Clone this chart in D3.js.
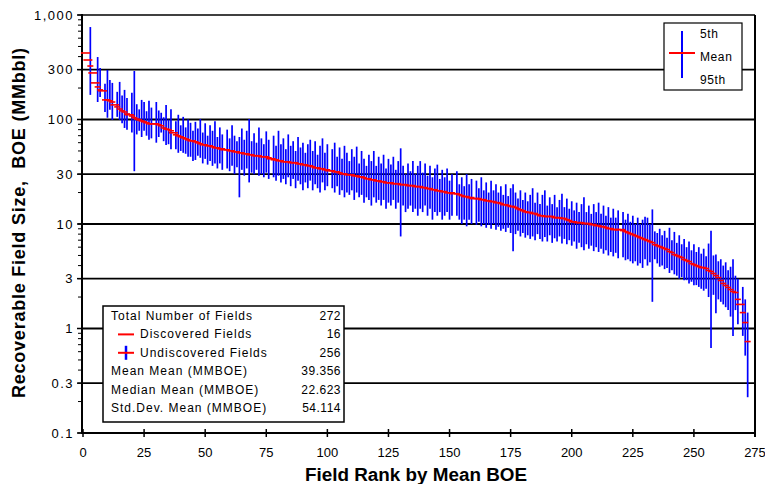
<!DOCTYPE html>
<html><head><meta charset="utf-8">
<script src="https://cdn.jsdelivr.net/npm/d3@7"></script>
<style>
body{margin:0;background:#fff;}
svg text{font-family:"Liberation Sans",Arial,sans-serif;fill:#000;}
</style></head><body>
<svg id="c" width="765" height="484"></svg>
<script>
// Field ranks 1..272 — mean, 95th and 5th percentile (MMBOE); null = discovered field (no range bar)
const meanValues = [433,371,325,279,224,205,192,188,154,154,
151,147,138,132,126,121,118,113,111,108,
104,101,99,97,95,93,91,91,91,91,
89,87,83,81,80,78,74.6,71.4,69.8,68.3,
66.8,65.3,63.9,62.5,62.5,61.2,59.9,58.6,57.3,57.3,
56,56,54.8,53.6,53.6,52.4,52.4,51.3,51.3,50.2,
50.2,49.1,49.1,48,48,47,47,46,46,45,
45,45,44,44,44,43,42.1,41.2,41.2,40.3,
40.3,39.4,39.4,39.4,38.6,38.6,38.6,37.7,37.7,36.9,
36.9,36.1,36.1,35.3,34.5,34.5,33.8,33.8,33,33,
32.3,32.3,31.6,31.6,30.9,30.2,30.2,29.6,29.6,29.6,
28.9,28.9,28.3,28.3,27.7,27.1,27.1,26.5,26.5,25.9,
25.9,25.4,25.4,24.8,24.8,24.8,24.3,24.3,24.3,23.8,
23.8,23.8,23.3,23.3,23.3,22.8,22.8,22.8,22.3,22.3,
21.8,21.8,21.3,21.3,20.8,20.8,20.4,20.4,19.9,19.9,
19.9,19.5,19.5,19.1,18.7,18.3,18.3,17.9,17.9,17.5,
17.5,17.5,17.1,17.1,16.7,16.7,16.4,16.4,16,16,
15.7,15.3,15.3,15,14.7,14.7,14.4,14,13.7,13.4,
13.1,12.9,12.9,12.6,12.6,12.3,12,12,11.8,11.8,
11.8,11.8,11.5,11.5,11.5,11.3,11.3,11,10.8,10.5,
10.5,10.3,10.3,10.3,10.1,10.1,10.1,9.87,9.87,9.65,
9.65,9.44,9.44,9.24,9.04,9.04,8.84,8.84,8.84,8.84,
8.65,8.46,8.27,8.09,7.92,7.75,7.58,7.41,7.25,7.09,
6.94,6.79,6.64,6.35,6.21,6.08,5.95,5.82,5.69,5.45,
5.33,5.1,4.99,4.88,4.77,4.57,4.47,4.37,4.18,4.09,
4,3.91,3.83,3.83,3.75,3.59,3.51,3.36,3.21,3.07,
2.88,2.7,2.58,2.47,2.36,2.26,2.21,1.9,1.7,1.42,
1.14,0.75];

const p95Values = [null,null,767,null,null,396,311,null,220,298,
239,224,null,184,229,170,192,161,null,180,
291,140,125,154,147,120,151,130,null,147,
122,116,105,138,100,125,null,96,111,88,
106,84,100,93,78,95,82,101,75,92,
70,88,78,96,68,84,72,null,80,66,
88,70,62,68,82,64,78,101,62,74,
60,84,66,58,77,64,null,70,56,78,
58,66,52,72,56,62,50,68,54,60,
48,58,64,50,62,46,56,66,48,58,
null,52,60,44,54,42,56,48,40,52,
44,55,38,50,42,36,46,40,50,36,
44,38,46,34,42,37,44,33,40,53,
36,30,38,32,40,30,36,40,31,38,
29,36,28,34,37,27,33,28,34,26,
30,null,32,24,28,23,30,24,27,null,
26,22,28,21,25,20,26,21,24,20,
23,19,24,18.5,22,24,20,17.5,21,17,
20,16.5,19,22,16,20,15.5,19,21,15,
18,15.5,19,14.5,17,19.5,14.5,17.5,14,16.5,
13.5,16,13,15.5,18,13,15,12.5,15.5,13,
16,12.5,15,12,14.5,11.5,14,11.5,13.5,null,
13,11,12.5,10.5,12,10,11.5,10,11,11.7,
11.5,10,13.8,8.5,8.2,9,7.8,8.6,7.4,9.2,
7,8.4,6.6,7.8,6.4,7.2,6,6.8,5.6,6.4,
5.4,6,5.2,5.8,4.9,6.5,8.6,5,5.1,4.4,
4.6,4,4.3,3.6,3.9,4.6,3.2,3,null,2.5,
1.9,1.42];

const p5Values = [null,null,172,null,null,147,164,null,118,104,
124,99,null,106,99,92,83,80,null,75,
32,72,78,68,78,70,64,66,null,60,
68,75,62,57,58,52,null,52,48,50,
48,47,44,44,40,41,45,43,38,42,
37,40,36,38,34,38,33,null,34,32,
36,30,35,18,33,29,34,25,31,30,
33,29,30,28,31,27,null,28,26,29,
25,27,24,28,23,27,22,26,24,21,
25,22,26,21,24,22,20,25,21,23,
null,22,20,23,19,21,18,20,19,21,
17,20,18,19,16,18,17,15,18,16,
17,15,17,14,16,15,17,14,16,7.6,
15,13,14,15,13,14,12,14,13,15,
12,14,11,13,12,13,11,12,13,11,
12,null,12,11,10,11,9.5,11,10,null,
9.8,10.5,9.5,10,9.2,9.8,9,10,8.8,9.4,
8.6,9,8.4,9.2,8.2,5.5,8,8.6,7.6,8.2,
7.4,7.8,7.2,7.6,7,8,7.2,6.8,7.5,6.8,
7.8,6.6,7.3,6.8,7.6,6.5,7.2,6.4,7,6.2,
6.8,5.8,6.6,6,5.6,6.4,5.8,6.2,5.5,6,
5.4,5.8,5.2,5.6,5,5.4,4.9,5.3,4.7,null,
4.8,4.5,4.6,4.4,4.2,4.4,4,4.2,3.8,4.6,
4,4.3,1.8,4.6,4.2,3.9,4,3.7,3.8,3.4,
3.6,3.3,3.2,3,3.1,2.9,2.9,2.7,2.8,2.6,
2.6,2.5,2.4,2.3,2.4,2,0.65,2.1,1.4,1.9,
1.8,1.7,1.6,1.5,1.3,0.85,1.5,1.1,null,0.85,
0.55,0.22];

const yTickValues = [0.1,0.3,1,3,10,30,100,300,1000];
const yTickLabels = ["0.1","0.3","1","3","10","30","100","300","1,000"];
const xTickValues = [0,25,50,75,100,125,150,175,200,225,250,275];
const legendLabels = ["5th","Mean","95th"];
const statsLabels = ["Total Number of Fields","Discovered Fields","Undiscovered Fields","Mean Mean (MMBOE)","Median Mean (MMBOE)","Std.Dev. Mean (MMBOE)"];
const statsValues = ["272","16","256","39.356","22.623","54.114"];
const xTitle = "Field Rank by Mean BOE";
const yTitle = "Recoverable Field Size,  BOE (MMbbl)";

const fields = meanValues.map((m,i)=>({rank:i+1, mean:m, p95:p95Values[i], p5:p5Values[i]}));

const svg = d3.select("#c");
const x = d3.scaleLinear().domain([0,275]).range([83,755]);
const y = d3.scaleLog().domain([0.1,1000]).range([433,15]);
const L = x(0), R = x(275), T = y(1000), B = y(0.1);

// gridlines
svg.append("g").selectAll("line").data(yTickValues.filter(v=>v>0.1 && v<1000)).join("line")
  .attr("x1",L).attr("x2",R).attr("y1",d=>y(d)).attr("y2",d=>y(d))
  .attr("stroke","#000").attr("stroke-width",1.8);
// top frame
svg.append("line").attr("x1",L).attr("x2",R).attr("y1",T).attr("y2",T).attr("stroke","#000").attr("stroke-width",1.5);
svg.append("line").attr("x1",R).attr("x2",R).attr("y1",T).attr("y2",B+4).attr("stroke","#000").attr("stroke-width",2);

// y axis
const minor = [];
[0.1,1,10,100].forEach(d=>{ for(let k=1;k<=10;k++) minor.push(d*k); });
svg.append("g").selectAll("line").data(minor).join("line")
  .attr("x1",L-5).attr("x2",L).attr("y1",d=>y(d)).attr("y2",d=>y(d))
  .attr("stroke","#000").attr("stroke-width",1);
svg.append("g").selectAll("line").data(yTickValues).join("line")
  .attr("x1",L-6).attr("x2",L).attr("y1",d=>y(d)).attr("y2",d=>y(d))
  .attr("stroke","#000").attr("stroke-width",1.5);
svg.append("g").selectAll("text").data(yTickValues).join("text")
  .attr("x",74).attr("y",d=>y(d)+4.5).attr("text-anchor","end")
  .attr("font-size",13).attr("letter-spacing",1.5)
  .text((d,i)=>yTickLabels[i]);
svg.append("line").attr("x1",L-1).attr("x2",L-1).attr("y1",T-1).attr("y2",B+1).attr("stroke","#000").attr("stroke-width",2);

// x axis
svg.append("line").attr("x1",L-1).attr("x2",R+1).attr("y1",B).attr("y2",B).attr("stroke","#000").attr("stroke-width",2);
svg.append("g").selectAll("line").data(xTickValues).join("line")
  .attr("x1",d=>x(d)).attr("x2",d=>x(d)).attr("y1",B-4).attr("y2",B+4)
  .attr("stroke","#000").attr("stroke-width",1.5);
svg.append("g").selectAll("text").data(xTickValues).join("text")
  .attr("x",d=>x(d)).attr("y",457).attr("text-anchor","middle")
  .attr("font-size",13).text(d=>d);

// range bars
svg.append("g").selectAll("line").data(fields.filter(d=>d.p95!=null)).join("line")
  .attr("x1",d=>x(d.rank)).attr("x2",d=>x(d.rank))
  .attr("y1",d=>y(d.p95)).attr("y2",d=>y(d.p5))
  .attr("stroke","#0000ff").attr("stroke-width",1.7);
// mean marks
svg.append("g").selectAll("line").data(fields).join("line")
  .attr("x1",d=>x(d.rank)-(d.p95==null?4.5:3)).attr("x2",d=>x(d.rank)+(d.p95==null?4.5:3))
  .attr("y1",d=>y(d.mean)).attr("y2",d=>y(d.mean))
  .attr("stroke","#ff0000").attr("stroke-width",1.6);

// titles
svg.append("text").attr("x",416).attr("y",481).attr("text-anchor","middle")
  .attr("font-size",18).attr("font-weight","bold").attr("textLength",222).attr("lengthAdjust","spacingAndGlyphs")
  .text(xTitle);
svg.append("text").attr("transform","translate(25,223) rotate(-90)").attr("text-anchor","middle")
  .attr("font-size",18).attr("font-weight","bold").attr("textLength",350).attr("lengthAdjust","spacing")
  .style("white-space","pre").text(yTitle);

// legend box
const lg = svg.append("g");
lg.append("rect").attr("x",664).attr("y",23).attr("width",78).attr("height",67)
  .attr("fill","#fff").attr("stroke","#000").attr("stroke-width",1.2);
lg.append("line").attr("x1",682).attr("x2",682).attr("y1",31).attr("y2",78).attr("stroke","#0000ff").attr("stroke-width",2);
lg.append("line").attr("x1",669).attr("x2",695).attr("y1",53).attr("y2",53).attr("stroke","#ff0000").attr("stroke-width",2);
lg.selectAll("text").data(legendLabels).join("text")
  .attr("x",700).attr("y",(d,i)=>38+i*23).attr("font-size",12).attr("letter-spacing",0.6)
  .text(d=>d);

// stats box
const sb = svg.append("g");
sb.append("rect").attr("x",103).attr("y",306).attr("width",241).attr("height",116)
  .attr("fill","#fff").attr("stroke","#000").attr("stroke-width",1.5);
const rowY = i=>320+i*18.4;
sb.selectAll("text.l").data(statsLabels).join("text").attr("class","l")
  .attr("x",(d,i)=>(i===1||i===2)?140:111).attr("y",(d,i)=>rowY(i))
  .attr("font-size",12).attr("letter-spacing",1).text(d=>d);
sb.selectAll("text.v").data(statsValues).join("text").attr("class","v")
  .attr("x",341).attr("y",(d,i)=>rowY(i)).attr("text-anchor","end")
  .attr("font-size",12).attr("letter-spacing",0.5).text(d=>d);
sb.append("line").attr("x1",118).attr("x2",134).attr("y1",rowY(1)-4).attr("y2",rowY(1)-4).attr("stroke","#ff0000").attr("stroke-width",2);
sb.append("line").attr("x1",126).attr("x2",126).attr("y1",rowY(2)-11).attr("y2",rowY(2)+3).attr("stroke","#0000ff").attr("stroke-width",2.5);
sb.append("line").attr("x1",118).attr("x2",134).attr("y1",rowY(2)-4).attr("y2",rowY(2)-4).attr("stroke","#ff0000").attr("stroke-width",2);
</script>
</body></html>
